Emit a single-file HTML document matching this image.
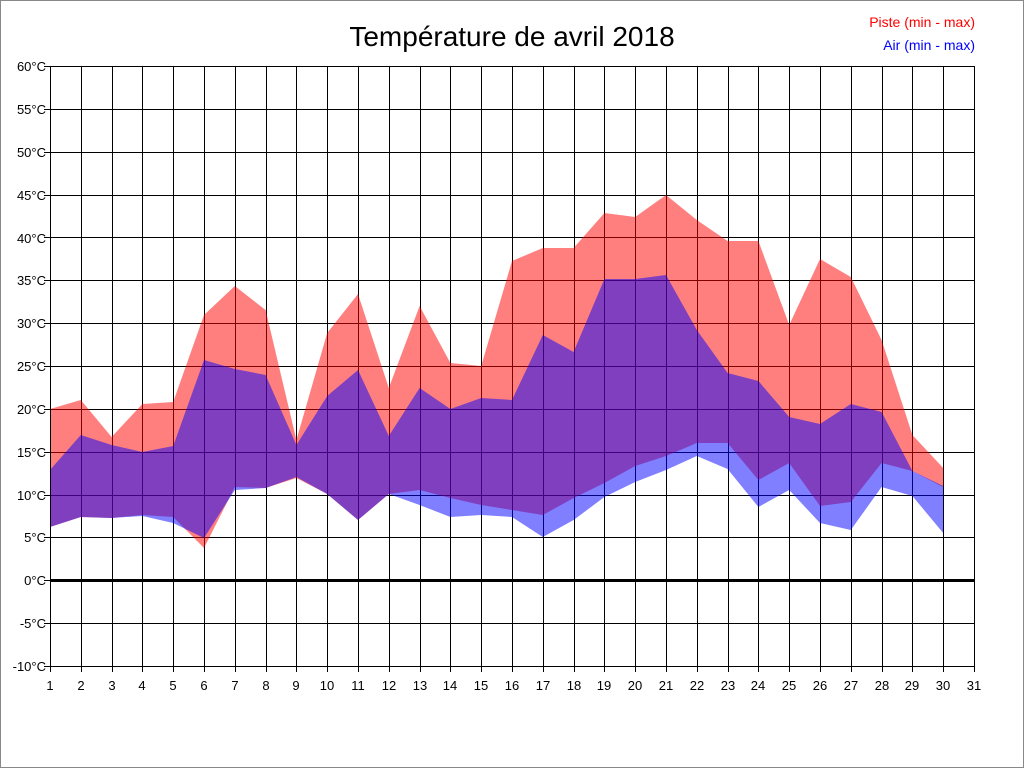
<!DOCTYPE html>
<html><head><meta charset="utf-8"><style>
html,body{margin:0;padding:0;background:#fff;}
svg{display:block;font-family:"Liberation Sans",sans-serif;}
</style></head><body>
<svg id="s" width="1024" height="768" xmlns="http://www.w3.org/2000/svg">
<rect x="0.5" y="0.5" width="1023" height="767" fill="#fff" stroke="#888"/>
<g id="grid" stroke="#000" stroke-width="1"></g>
<g id="fills"></g>
<line x1="50" y1="580.5" x2="974" y2="580.5" stroke="#000" stroke-width="3"/>
<rect x="50.5" y="66.5" width="924" height="600" fill="none" stroke="#000"/>
<text x="512" y="46" font-size="28" text-anchor="middle">Température de avril 2018</text>
<text x="975" y="27" font-size="14" text-anchor="end" fill="#f00">Piste (min - max)</text>
<text x="975" y="50" font-size="14" text-anchor="end" fill="#00f">Air (min - max)</text>
<g font-size="13" text-anchor="end">
<text x="46" y="71">60°C</text><text x="46" y="114">55°C</text><text x="46" y="157">50°C</text>
<text x="46" y="200">45°C</text><text x="46" y="243">40°C</text><text x="46" y="285">35°C</text>
<text x="46" y="328">30°C</text><text x="46" y="371">25°C</text><text x="46" y="414">20°C</text>
<text x="46" y="457">15°C</text><text x="46" y="500">10°C</text><text x="46" y="542">5°C</text>
<text x="46" y="585">0°C</text><text x="46" y="628">-5°C</text><text x="46" y="671">-10°C</text>
</g>
<g font-size="13" text-anchor="middle">
<text x="50" y="690">1</text><text x="81" y="690">2</text><text x="112" y="690">3</text><text x="142" y="690">4</text><text x="173" y="690">5</text><text x="204" y="690">6</text><text x="235" y="690">7</text><text x="266" y="690">8</text><text x="296" y="690">9</text><text x="327" y="690">10</text><text x="358" y="690">11</text><text x="389" y="690">12</text><text x="420" y="690">13</text><text x="450" y="690">14</text><text x="481" y="690">15</text><text x="512" y="690">16</text><text x="543" y="690">17</text><text x="574" y="690">18</text><text x="604" y="690">19</text><text x="635" y="690">20</text><text x="666" y="690">21</text><text x="697" y="690">22</text><text x="728" y="690">23</text><text x="758" y="690">24</text><text x="789" y="690">25</text><text x="820" y="690">26</text><text x="851" y="690">27</text><text x="882" y="690">28</text><text x="912" y="690">29</text><text x="943" y="690">30</text><text x="974" y="690">31</text>
</g>
</svg>
<script>
var NS="http://www.w3.org/2000/svg";
var pMax=[409,400,437,404,402,315,286,310,440,333,294,388,306,363,366,261,248,248,213,217,195,220,241,241,325,259,277,340,435,468];
var pMin=[527,517,518,515,517,548,487,488,478,494,520,494,490,498,505,510,515,498,483,466,456,443,443,480,463,506,502,463,471,487];
var aMax=[470,435,445,452,446,360,369,375,445,396,370,436,388,409,398,400,335,352,279,279,275,330,373,381,417,424,404,412,471,486];
var aMin=[527,517,518,516,523,538,490,488,477,494,520,494,505,517,515,517,537,520,497,482,470,456,469,507,490,523,530,487,496,533];
function X(i){return 50+i*30.8;}
function poly(top,bot,col){
 var pts=[];for(var i=0;i<top.length;i++)pts.push(X(i)+","+top[i]);
 for(var i=bot.length-1;i>=0;i--)pts.push(X(i)+","+bot[i]);
 var p=document.createElementNS(NS,"polygon");p.setAttribute("points",pts.join(" "));
 p.setAttribute("fill",col);p.setAttribute("fill-opacity","0.5");
 document.getElementById("fills").appendChild(p);}
poly(pMax,pMin,"#ff0000");poly(aMax,aMin,"#0000ff");
var g=document.getElementById("grid");
for(var i=0;i<=30;i++){var l=document.createElementNS(NS,"line");var x=Math.round(X(i))+0.5;
 l.setAttribute("x1",x);l.setAttribute("x2",x);l.setAttribute("y1",66);l.setAttribute("y2",672);g.appendChild(l);}
for(var k=0;k<=14;k++){var l=document.createElementNS(NS,"line");var y=Math.round(66+k*600/14)+0.5;
 l.setAttribute("x1",44);l.setAttribute("x2",974);l.setAttribute("y1",y);l.setAttribute("y2",y);g.appendChild(l);}
</script>
</body></html>
